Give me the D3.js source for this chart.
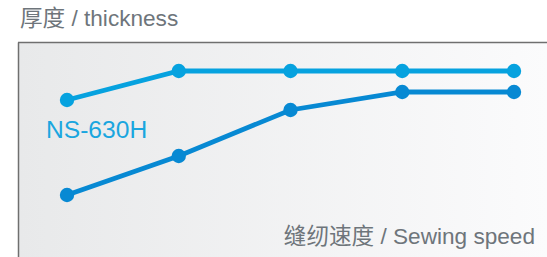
<!DOCTYPE html>
<html><head><meta charset="utf-8">
<script src="https://cdn.jsdelivr.net/npm/d3@7"></script>
<style>body{margin:0;background:#fff;overflow:hidden}</style>
</head><body>
<svg id="c" width="547" height="257"></svg>
<script>
const categories = ["s1","s2","s3","s4","s5"];
const seriesNS630H = [7.25, 8.7, 8.7, 8.7, 8.7];
const seriesOther = [2.5, 4.45, 6.75, 7.65, 7.65];
const titleY = "厚度 / thickness";
const titleX = "缝纫速度 / Sewing speed";
const seriesLabel = "NS-630H";

const svg = d3.select("#c");
const defs = svg.append("defs");
const g = defs.append("linearGradient").attr("id","bg").attr("x1","0").attr("x2","1").attr("y1","0").attr("y2","0");
g.append("stop").attr("offset","0").attr("stop-color","#e8e9ea");
g.append("stop").attr("offset","1").attr("stop-color","#fbfbfc");

svg.append("rect").attr("x",19).attr("y",43).attr("width",528).attr("height",214).attr("fill","url(#bg)");
svg.append("line").attr("x1",18.5).attr("x2",18.5).attr("y1",42.5).attr("y2",257).attr("stroke","#6f6f6f").attr("stroke-width",1.5);
svg.append("line").attr("x1",18).attr("x2",547).attr("y1",42.5).attr("y2",42.5).attr("stroke","#6f6f6f").attr("stroke-width",1.5);

const x = d3.scalePoint().domain(categories).range([67,514]);
const y = d3.scaleLinear().domain([0,10]).range([245,45]);
const line = d3.line().x((d,i)=>x(categories[i])).y(d=>y(d));

function draw(data, color){
  svg.append("path").attr("d", line(data)).attr("fill","none").attr("stroke",color).attr("stroke-width",4.8);
  svg.selectAll(null).data(data).enter().append("circle")
    .attr("cx",(d,i)=>x(categories[i])).attr("cy",d=>y(d)).attr("r",7.2).attr("fill",color);
}
draw(seriesOther, "#0789d3");
draw(seriesNS630H, "#06a2df");

const ff = "'Liberation Sans', 'Noto Sans CJK SC', sans-serif";
svg.append("text").attr("x",20).attr("y",26).attr("font-family",ff)
  .attr("font-size",22.6).attr("fill","#6e757b").text(titleY);
svg.append("text").attr("x",46).attr("y",138).attr("font-family",ff)
  .attr("font-size",24.6).attr("fill","#1aa6df").text(seriesLabel);
svg.append("text").attr("x",535).attr("y",244).attr("text-anchor","end").attr("font-family",ff)
  .attr("font-size",22.6).attr("fill","#6e757b").text(titleX);
</script>
</body></html>
